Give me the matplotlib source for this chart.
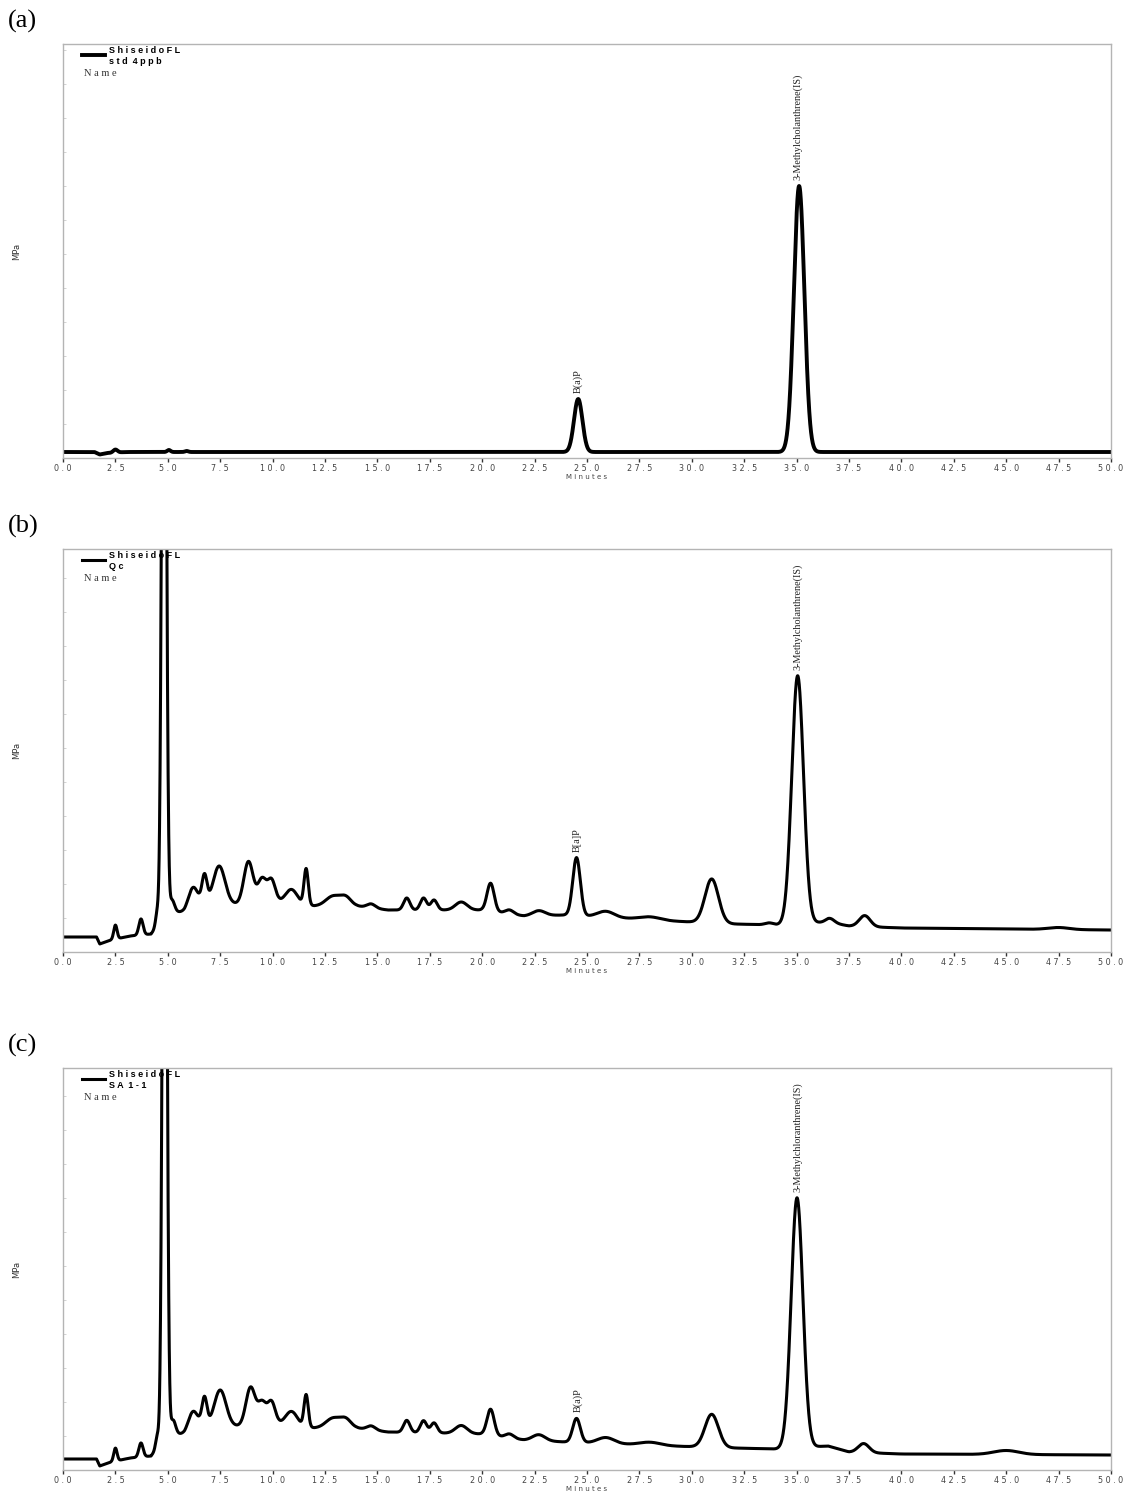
import numpy as np
import matplotlib
matplotlib.use("Agg")
import matplotlib.pyplot as plt

# x axis ticks (minutes)
tick_vals = [0.0, 2.5, 5.0, 7.5, 10.0, 12.5, 15.0, 17.5, 20.0, 22.5, 25.0,
             27.5, 30.0, 32.5, 35.0, 37.5, 40.0, 42.5, 45.0, 47.5, 50.0]
tick_labels = [" ".join(f"{v:.1f}") for v in tick_vals]

# (a) standard 4 ppb : baseline knots (min, signal) and peaks (min, height, sigma)
base_a_t = [0.0, 1.5, 1.75, 2.1, 3.0, 50.0]
base_a_y = [6.0, 6.0, 3.5, 5.0, 6.0, 6.0]
peaks_a_t = [2.5, 5.05, 5.9, 24.58, 35.12]
peaks_a_h = [3.0, 2.0, 1.0, 53.0, 266.0]
peaks_a_s = [0.1, 0.08, 0.08, 0.2, 0.25]

# (b) QC sample
base_b_t = [0.0, 1.6, 1.75, 2.3, 3.2, 4.2, 5.0, 5.8, 6.5, 8.3, 10.3, 12.0,
            14.0, 15.5, 18.0, 20.0, 22.0, 24.0, 26.5, 29.0, 32.0, 34.0,
            36.5, 37.5, 40.0, 50.0]
base_b_y = [15, 15, 8, 12, 16, 18, 40, 40, 48, 48, 50, 46,
            46, 42, 42, 42, 36, 37, 34, 31, 28, 27,
            30, 26, 24, 22]
peaks_b_t = [2.5, 3.72, 4.5, 4.82, 5.2, 6.2, 6.75, 7.45, 8.85, 9.5, 9.95,
             10.9, 11.6, 12.9, 13.5, 14.7, 16.4, 17.2, 17.7, 19.0, 20.4,
             21.3, 22.7, 24.5, 25.9, 28.0, 30.95, 33.7, 35.05, 36.6, 38.25,
             47.5]
peaks_b_h = [14, 16, 14, 900, 12, 20, 28, 38, 42, 24, 22,
             14, 36, 10, 8, 4, 12, 12, 10, 8, 28,
             4, 5, 58, 6, 3, 44, 2, 248, 4, 11,
             2]
peaks_b_s = [0.08, 0.1, 0.08, 0.1, 0.12, 0.22, 0.12, 0.28, 0.22, 0.2, 0.18,
             0.28, 0.1, 0.35, 0.25, 0.2, 0.15, 0.15, 0.15, 0.28, 0.17,
             0.2, 0.3, 0.18, 0.4, 0.5, 0.32, 0.2, 0.28, 0.2, 0.26,
             0.5]

# (c) sample SA 1-1
base_c_t = [0.0, 1.6, 1.75, 2.3, 3.2, 4.2, 5.0, 5.8, 6.5, 8.3, 10.3, 12.0,
            14.0, 15.5, 18.0, 20.0, 22.0, 24.0, 26.5, 29.0, 32.0, 34.0,
            36.5, 37.5, 40.0, 50.0]
base_c_y = [11, 11, 4, 8, 12, 14, 36, 36, 44, 44, 46, 42,
            42, 38, 37, 36, 30, 28, 26, 24, 22, 21,
            24, 18, 16, 15]
peaks_c_t = [2.5, 3.72, 4.5, 4.85, 5.25, 6.2, 6.75, 7.5, 8.95, 9.5, 9.95,
             10.9, 11.6, 12.9, 13.5, 14.7, 16.4, 17.2, 17.7, 19.0, 20.4,
             21.3, 22.7, 24.5, 25.9, 28.0, 30.95, 35.02, 38.2, 45.0]
peaks_c_h = [13, 14, 12, 900, 14, 18, 28, 36, 38, 22, 22,
             14, 32, 10, 8, 4, 12, 12, 10, 8, 26,
             4, 6, 24, 6, 3, 33, 250, 9, 4]
peaks_c_s = [0.08, 0.1, 0.08, 0.1, 0.12, 0.22, 0.12, 0.28, 0.22, 0.2, 0.18,
             0.28, 0.1, 0.35, 0.25, 0.2, 0.15, 0.15, 0.15, 0.28, 0.17,
             0.2, 0.3, 0.18, 0.4, 0.5, 0.32, 0.28, 0.26, 0.6]

panels = [
    dict(tag="(a)", name="s t d  4 p p b", base=(base_a_t, base_a_y),
         peaks=(peaks_a_t, peaks_a_h, peaks_a_s), lw=2.8,
         bap="B(a)P", mc="3-Methylcholanthrene(IS)", ylim=414,
         rect=[63, 44, 1111, 458]),
    dict(tag="(b)", name="Q c", base=(base_b_t, base_b_y),
         peaks=(peaks_b_t, peaks_b_h, peaks_b_s), lw=2.2,
         bap="B[a]P", mc="3-Methylcholanthrene(IS)", ylim=403,
         rect=[63, 549, 1111, 952]),
    dict(tag="(c)", name="S A  1 - 1", base=(base_c_t, base_c_y),
         peaks=(peaks_c_t, peaks_c_h, peaks_c_s), lw=2.2,
         bap="B(a)P", mc="3-Methylchloranthrene(IS)", ylim=402,
         rect=[63, 1068, 1111, 1470]),
]

W, H = 1123, 1492
fig = plt.figure(figsize=(W / 100, H / 100), dpi=100)
t = np.linspace(0, 50, 10001)

for p in panels:
    x0, y0, x1, y1 = p["rect"]
    ax = fig.add_axes([x0 / W, 1 - y1 / H, (x1 - x0) / W, (y1 - y0) / H])
    sig = np.interp(t, *p["base"])
    for c, h, s in zip(*p["peaks"]):
        sig = sig + h * np.exp(-0.5 * ((t - c) / s) ** 2)
    ax.plot(t, sig, color="black", lw=p["lw"], solid_joinstyle="round")
    ax.set_xlim(0, 50)
    ax.set_ylim(0, p["ylim"])

    for sp in ax.spines.values():
        sp.set_color("#b4b4b4")
        sp.set_linewidth(1.0)
    ax.set_xticks(tick_vals)
    ax.set_xticklabels(tick_labels, fontsize=5.8, color="#444444",
                       family="DejaVu Sans")
    ax.tick_params(axis="x", length=3, width=1, color="#333333", pad=1)
    ax.set_yticks(np.arange(0, p["ylim"], 34))
    ax.set_yticklabels([])
    ax.tick_params(axis="y", length=2, width=0.6, color="#cccccc",
                   direction="in")
    ax.set_xlabel("M i n u t e s", fontsize=5, color="#444444", labelpad=1)
    fig.text(17 / W, 1 - (y0 + y1) / 2 / H, "MPa", rotation=90,
             ha="center", va="center", fontsize=6, color="#333333")

    # peak labels
    for c, txt in [(24.55, p["bap"]), (35.05, p["mc"])]:
        i = np.argmin(np.abs(t - c))
        top = sig[max(i - 30, 0):i + 30].max()
        ax.text(c, top + 6, txt, rotation=90, ha="center", va="bottom",
                fontsize=7.3, family="Liberation Serif", color="#222222")

    # legend block
    ax.plot([0.018, 0.040], [1 - 11 / p["ylim"]] * 2, color="black",
            lw=p["lw"], transform=ax.transAxes)
    ax.text(0.044, 1 - 2 / p["ylim"], "S h i s e i d o F L\n" + p["name"],
            transform=ax.transAxes, ha="left", va="top", fontsize=6.5,
            fontweight="bold", family="Liberation Sans", linespacing=1.25)
    ax.text(0.020, 1 - 25 / p["ylim"], "N a m e", transform=ax.transAxes,
            ha="left", va="top", fontsize=7.5, family="Liberation Serif",
            color="#333333")

    fig.text(8 / W, 1 - (y0 - 23) / H, p["tag"], ha="left", va="center",
             fontsize=19, family="Liberation Serif")

fig.savefig("out.png", dpi=100)
